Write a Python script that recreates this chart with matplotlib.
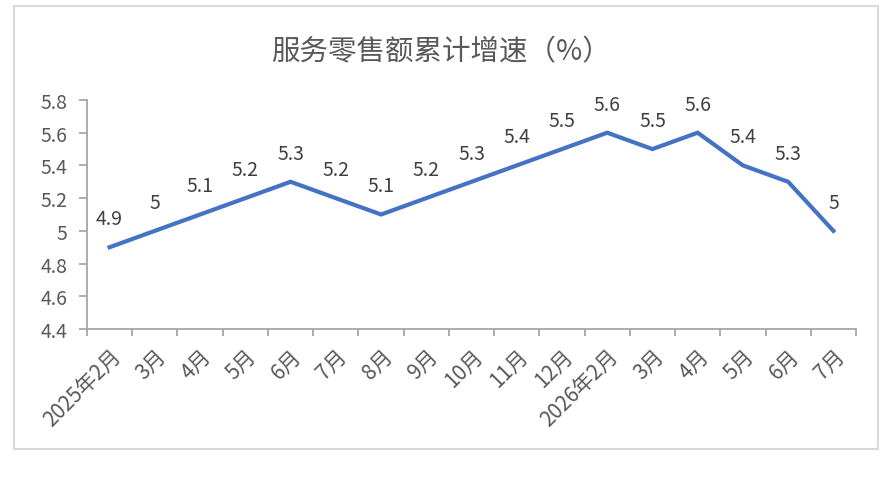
import matplotlib
matplotlib.use("Agg")
import matplotlib.pyplot as plt
from matplotlib.patches import Rectangle
import numpy as np

plt.rcParams['font.family'] = ['Noto Sans CJK SC', 'DejaVu Sans']

categories = ["2025年2月", "3月", "4月", "5月", "6月", "7月", "8月", "9月", "10月",
              "11月", "12月", "2026年2月", "3月", "4月", "5月", "6月", "7月"]
values = [4.9, 5, 5.1, 5.2, 5.3, 5.2, 5.1, 5.2, 5.3, 5.4, 5.5, 5.6, 5.5, 5.6, 5.4, 5.3, 5]
yticks = [4.4, 4.6, 4.8, 5, 5.2, 5.4, 5.6, 5.8]
ytick_labels = ["4.4", "4.6", "4.8", "5", "5.2", "5.4", "5.6", "5.8"]
title = "服务零售额累计增速（%）"

W, H = 890, 485
fig = plt.figure(figsize=(W / 100, H / 100), dpi=100)
fig.patch.set_facecolor("white")

# outer chart border
fig.patches.append(Rectangle((14 / W, 1 - 450 / H), (878 - 14) / W, (450 - 7) / H,
                             transform=fig.transFigure, fill=False,
                             edgecolor="#d9d9d9", linewidth=1.5))

ax = fig.add_axes([87 / W, 1 - 330 / H, (856 - 87) / W, (330 - 101) / H])
x = np.arange(len(categories))
ax.plot(x, values, color="#4472C4", linewidth=3.0, solid_joinstyle="miter")

for xi, v in zip(x, values):
    ax.annotate(f"{v:g}", (xi, v), xytext=(0, 13), textcoords="offset points",
                ha="center", va="bottom", fontsize=14, color="#404040")

ax.set_xlim(-0.5, len(categories) - 0.5)
ax.set_ylim(4.4, 5.8)
ax.set_yticks(yticks)
ax.set_yticklabels(ytick_labels)

ax.set_xticks(np.arange(len(categories) + 1) - 0.5)
ax.set_xticklabels([])
ax.set_xticks(x, minor=True)
ax.set_xticklabels(categories, minor=True, rotation=45, ha="right", va="top",
                   rotation_mode="anchor")
for lbl in ax.get_xticklabels(minor=True):
    lbl.set_x(lbl.get_position()[0])

from matplotlib.transforms import ScaledTranslation
offset = ScaledTranslation(-4 / 72, -2 / 72, fig.dpi_scale_trans)
for lbl in ax.xaxis.get_minorticklabels():
    lbl.set_transform(lbl.get_transform() + offset)

ax.tick_params(axis="x", which="major", length=5, color="#a6a6a6", width=1.3)
ax.tick_params(axis="x", which="minor", length=0, pad=11, labelsize=15, labelcolor="#595959")
ax.tick_params(axis="y", length=6, color="#a6a6a6", width=1.3, labelsize=14,
               labelcolor="#595959", pad=8)

for s in ["top", "right"]:
    ax.spines[s].set_visible(False)
for s in ["left", "bottom"]:
    ax.spines[s].set_color("#a6a6a6")
    ax.spines[s].set_linewidth(1.3)

fig.text(441 / W, 1 - 52 / H, title, ha="center", va="center", fontsize=20.5,
         color="#595959")

fig.savefig("out.png", dpi=100, facecolor="white")
